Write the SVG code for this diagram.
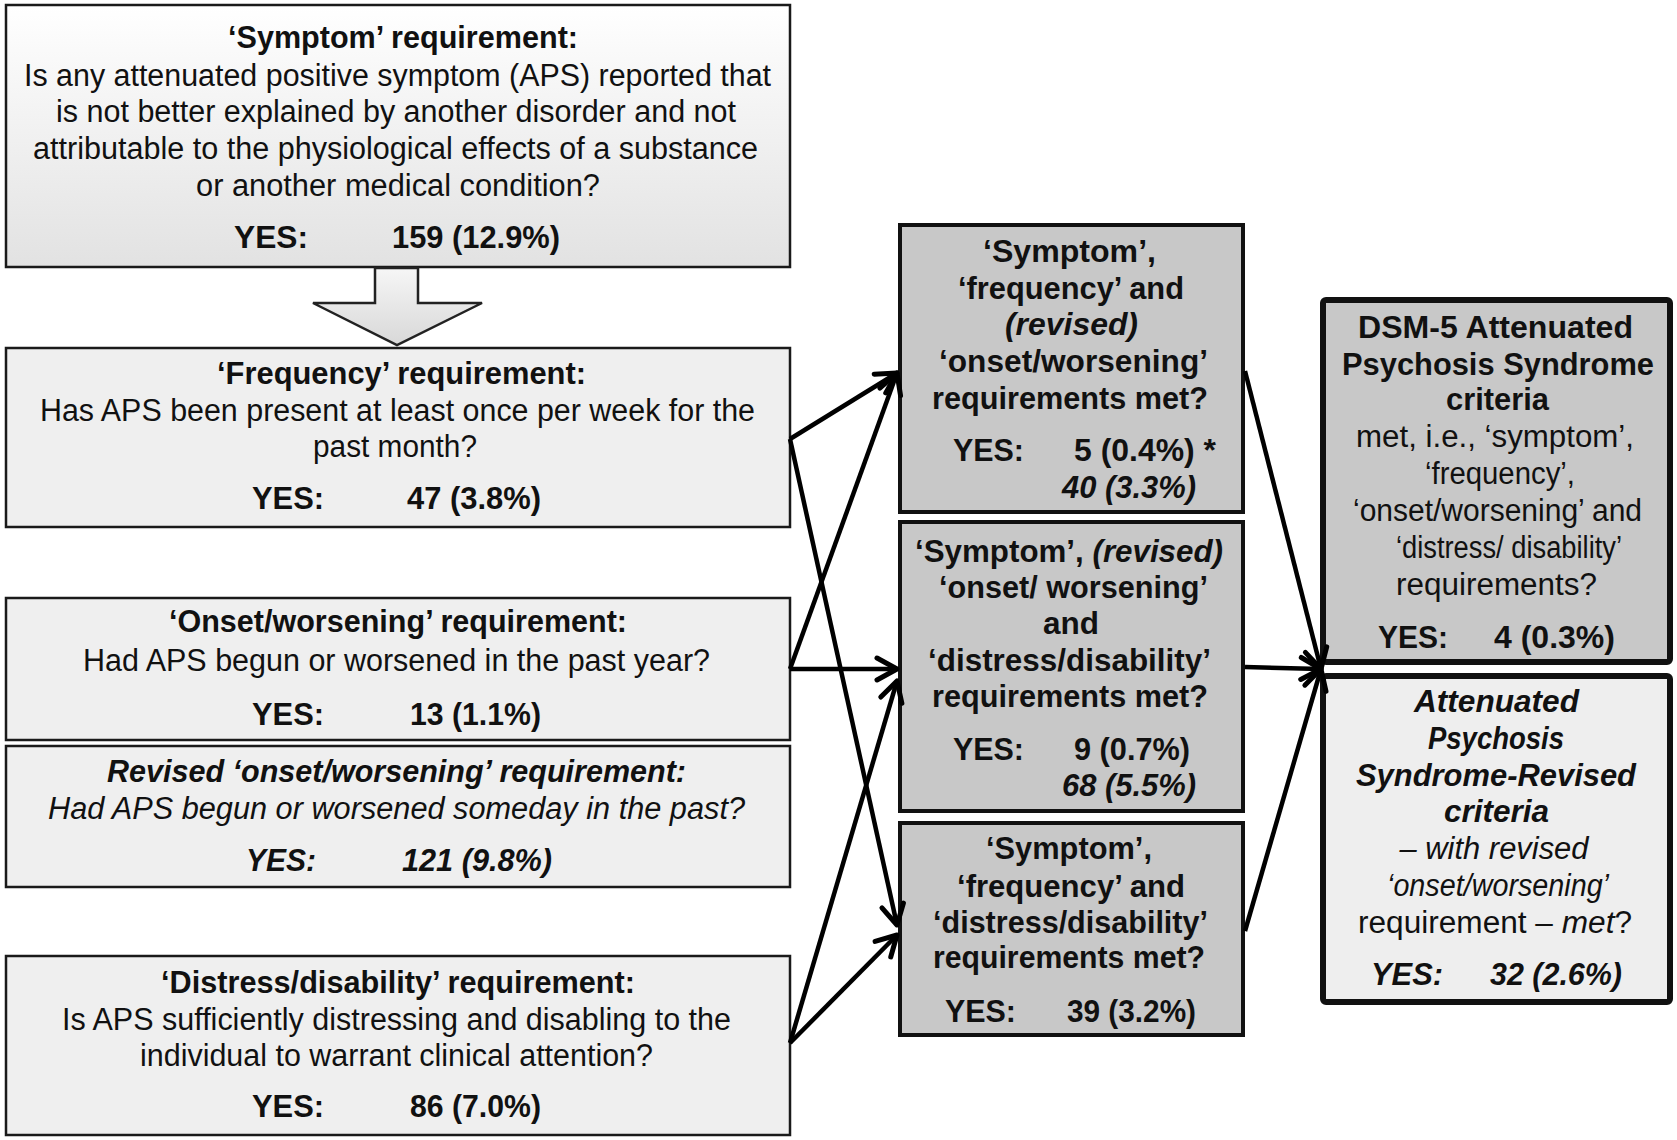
<svg xmlns="http://www.w3.org/2000/svg" width="1677" height="1140" viewBox="0 0 1677 1140">
<defs>
<linearGradient id="g1" x1="0" y1="0" x2="0" y2="1">
<stop offset="0" stop-color="#ffffff"/>
<stop offset="1" stop-color="#e2e2e2"/>
</linearGradient>
<linearGradient id="g2" x1="0" y1="0" x2="0" y2="1">
<stop offset="0" stop-color="#f6f6f6"/>
<stop offset="1" stop-color="#d8d8d8"/>
</linearGradient>
<marker id="ah" markerUnits="userSpaceOnUse" markerWidth="40" markerHeight="40" viewBox="-30 -20 40 40" refX="0" refY="0" orient="auto" overflow="visible">
<path d="M-20,-11 L0,0 L-20,11" fill="none" stroke="#000" stroke-width="5" stroke-linecap="round" stroke-linejoin="round"/>
</marker>
<style>
text{font-family:"Liberation Sans",Arial,sans-serif;font-size:31px;fill:#111}
.c{text-anchor:middle}
.b{font-weight:bold}
.i{font-style:italic}
.lb{fill:#efefef;stroke:#1a1a1a;stroke-width:2.5}
.mb{fill:#c8c8c8;stroke:#111;stroke-width:4}
.rb{stroke:#111;stroke-width:6}
.cn{stroke:#000;stroke-width:4.5;fill:none;marker-end:url(#ah)}
</style>
</defs>
<rect width="1677" height="1140" fill="#fff"/>

<g id="symptom">
<rect class="lb" x="6" y="5" width="784" height="262" style="fill:url(#g1)"/>
<text class="c b" x="403" y="48" textLength="350" lengthAdjust="spacingAndGlyphs">‘Symptom’ requirement:</text>
<text class="c" x="397.5" y="86" textLength="747" lengthAdjust="spacingAndGlyphs">Is any attenuated positive symptom (APS) reported that</text>
<text class="c" x="396" y="122" textLength="680" lengthAdjust="spacingAndGlyphs">is not better explained by another disorder and not</text>
<text class="c" x="395.5" y="159" textLength="725" lengthAdjust="spacingAndGlyphs">attributable to the physiological effects of a substance</text>
<text class="c" x="398" y="196" textLength="404" lengthAdjust="spacingAndGlyphs">or another medical condition?</text>
<text class="b" x="234" y="248" textLength="74" lengthAdjust="spacingAndGlyphs">YES:</text>
<text class="b" x="392" y="248" textLength="168" lengthAdjust="spacingAndGlyphs">159 (12.9%)</text>
</g>

<g id="blockarrow">
<polygon points="375,268 418,268 418,303 482,303 397,345 313,303 375,303" fill="url(#g2)" stroke="#222" stroke-width="2.5" stroke-linejoin="miter"/>
</g>

<g id="frequency">
<rect class="lb" x="6" y="348" width="784" height="179"/>
<text class="c b" x="401.5" y="384" textLength="369" lengthAdjust="spacingAndGlyphs">‘Frequency’ requirement:</text>
<text class="c" x="397.5" y="421" textLength="715" lengthAdjust="spacingAndGlyphs">Has APS been present at least once per week for the</text>
<text class="c" x="395" y="457" textLength="164" lengthAdjust="spacingAndGlyphs">past month?</text>
<text class="b" x="252" y="509" textLength="72" lengthAdjust="spacingAndGlyphs">YES:</text>
<text class="b" x="407" y="509" textLength="134" lengthAdjust="spacingAndGlyphs">47 (3.8%)</text>
</g>

<g id="onset">
<rect class="lb" x="6" y="598" width="784" height="142"/>
<text class="c b" x="398" y="632" textLength="458" lengthAdjust="spacingAndGlyphs">‘Onset/worsening’ requirement:</text>
<text class="c" x="396.5" y="671" textLength="627" lengthAdjust="spacingAndGlyphs">Had APS begun or worsened in the past year?</text>
<text class="b" x="252" y="725" textLength="72" lengthAdjust="spacingAndGlyphs">YES:</text>
<text class="b" x="410" y="725" textLength="131" lengthAdjust="spacingAndGlyphs">13 (1.1%)</text>
</g>

<g id="revised-onset">
<rect class="lb" x="6" y="746" width="784" height="141"/>
<text class="c b i" x="396.5" y="782" textLength="579" lengthAdjust="spacingAndGlyphs">Revised ‘onset/worsening’ requirement:</text>
<text class="c i" x="396.5" y="819" textLength="697" lengthAdjust="spacingAndGlyphs">Had APS begun or worsened someday in the past?</text>
<text class="b i" x="246" y="871" textLength="70" lengthAdjust="spacingAndGlyphs">YES:</text>
<text class="b i" x="402" y="871" textLength="150" lengthAdjust="spacingAndGlyphs">121 (9.8%)</text>
</g>

<g id="distress">
<rect class="lb" x="6" y="956" width="784" height="179"/>
<text class="c b" x="398" y="993" textLength="474" lengthAdjust="spacingAndGlyphs">‘Distress/disability’ requirement:</text>
<text class="c" x="396.5" y="1030" textLength="669" lengthAdjust="spacingAndGlyphs">Is APS sufficiently distressing and disabling to the</text>
<text class="c" x="396.5" y="1066" textLength="513" lengthAdjust="spacingAndGlyphs">individual to warrant  clinical attention?</text>
<text class="b" x="252" y="1117" textLength="72" lengthAdjust="spacingAndGlyphs">YES:</text>
<text class="b" x="410" y="1117" textLength="131" lengthAdjust="spacingAndGlyphs">86 (7.0%)</text>
</g>

<g id="m1">
<rect class="mb" x="900" y="225" width="343" height="287"/>
<text class="c b" x="1069.5" y="262" textLength="173" lengthAdjust="spacingAndGlyphs">‘Symptom’,</text>
<text class="c b" x="1071" y="299" textLength="226" lengthAdjust="spacingAndGlyphs">‘frequency’ and</text>
<text class="c b i" x="1071.5" y="335" textLength="133" lengthAdjust="spacingAndGlyphs">(revised)</text>
<text class="c b" x="1073.5" y="372" textLength="269" lengthAdjust="spacingAndGlyphs">‘onset/worsening’</text>
<text class="c b" x="1070" y="409" textLength="276" lengthAdjust="spacingAndGlyphs">requirements met?</text>
<text class="b" x="953" y="461" textLength="71" lengthAdjust="spacingAndGlyphs">YES:</text>
<text class="b" x="1074" y="461" textLength="142" lengthAdjust="spacingAndGlyphs">5 (0.4%) *</text>
<text class="b i" x="1062" y="498" textLength="134" lengthAdjust="spacingAndGlyphs">40 (3.3%)</text>
</g>

<g id="m2">
<rect class="mb" x="900" y="522" width="343" height="289"/>
<text class="c b" x="1069" y="562" textLength="308" lengthAdjust="spacingAndGlyphs">‘Symptom’, <tspan class="i">(revised)</tspan></text>
<text class="c b" x="1073.5" y="598" textLength="269" lengthAdjust="spacingAndGlyphs">‘onset/ worsening’</text>
<text class="c b" x="1071" y="634" textLength="56" lengthAdjust="spacingAndGlyphs">and</text>
<text class="c b" x="1069.5" y="671" textLength="283" lengthAdjust="spacingAndGlyphs">‘distress/disability’</text>
<text class="c b" x="1070" y="707" textLength="276" lengthAdjust="spacingAndGlyphs">requirements met?</text>
<text class="b" x="953" y="760" textLength="71" lengthAdjust="spacingAndGlyphs">YES:</text>
<text class="b" x="1074" y="760" textLength="116" lengthAdjust="spacingAndGlyphs">9 (0.7%)</text>
<text class="b i" x="1062" y="796" textLength="134" lengthAdjust="spacingAndGlyphs">68 (5.5%)</text>
</g>

<g id="m3">
<rect class="mb" x="900" y="823" width="343" height="212"/>
<text class="c b" x="1069" y="859" textLength="166" lengthAdjust="spacingAndGlyphs">‘Symptom’,</text>
<text class="c b" x="1071" y="897" textLength="228" lengthAdjust="spacingAndGlyphs">‘frequency’ and</text>
<text class="c b" x="1070.5" y="933" textLength="275" lengthAdjust="spacingAndGlyphs">‘distress/disability’</text>
<text class="c b" x="1069" y="968" textLength="272" lengthAdjust="spacingAndGlyphs">requirements met?</text>
<text class="b" x="945" y="1022" textLength="71" lengthAdjust="spacingAndGlyphs">YES:</text>
<text class="b" x="1067" y="1022" textLength="129" lengthAdjust="spacingAndGlyphs">39 (3.2%)</text>
</g>

<g id="dsm5">
<rect class="rb" x="1323" y="300" width="347" height="362" rx="3" fill="#c8c8c8"/>
<text class="c b" x="1495.5" y="338" textLength="275" lengthAdjust="spacingAndGlyphs">DSM-5 Attenuated</text>
<text class="c b" x="1498" y="375" textLength="312" lengthAdjust="spacingAndGlyphs">Psychosis Syndrome</text>
<text class="c b" x="1497.5" y="410" textLength="103" lengthAdjust="spacingAndGlyphs">criteria</text>
<text class="c" x="1495" y="447" textLength="278" lengthAdjust="spacingAndGlyphs">met, i.e., ‘symptom’,</text>
<text class="c" x="1500" y="484" textLength="150" lengthAdjust="spacingAndGlyphs">‘frequency’,</text>
<text class="c" x="1497.5" y="521" textLength="289" lengthAdjust="spacingAndGlyphs">‘onset/worsening’ and</text>
<text class="c" x="1509" y="558" textLength="226" lengthAdjust="spacingAndGlyphs">‘distress/ disability’</text>
<text class="c" x="1496.5" y="595" textLength="201" lengthAdjust="spacingAndGlyphs">requirements?</text>
<text class="b" x="1378" y="648" textLength="70" lengthAdjust="spacingAndGlyphs">YES:</text>
<text class="b" x="1494" y="648" textLength="121" lengthAdjust="spacingAndGlyphs">4 (0.3%)</text>
</g>

<g id="apsr">
<rect class="rb" x="1323" y="676" width="347" height="326" rx="3" fill="#eeeeee"/>
<text class="c b i" x="1496.5" y="712" textLength="165" lengthAdjust="spacingAndGlyphs">Attenuated</text>
<text class="c b i" x="1496" y="749" textLength="136" lengthAdjust="spacingAndGlyphs">Psychosis</text>
<text class="c b i" x="1496" y="786" textLength="280" lengthAdjust="spacingAndGlyphs">Syndrome-Revised</text>
<text class="c b i" x="1496.5" y="822" textLength="105" lengthAdjust="spacingAndGlyphs">criteria</text>
<text class="c i" x="1494" y="859" textLength="189" lengthAdjust="spacingAndGlyphs">– with revised</text>
<text class="c i" x="1498" y="896" textLength="222" lengthAdjust="spacingAndGlyphs">‘onset/worsening’</text>
<text class="c" x="1495" y="933" textLength="274" lengthAdjust="spacingAndGlyphs">requirement – <tspan class="i">met</tspan>?</text>
<text class="b i" x="1371" y="985" textLength="72" lengthAdjust="spacingAndGlyphs">YES:</text>
<text class="b i" x="1490" y="985" textLength="132" lengthAdjust="spacingAndGlyphs">32 (2.6%)</text>
</g>

<g id="connectors">
<line class="cn" x1="790" y1="439" x2="897" y2="373"/>
<line class="cn" x1="790" y1="439" x2="897" y2="925"/>
<line class="cn" x1="790" y1="669" x2="897" y2="373"/>
<line class="cn" x1="790" y1="669" x2="897" y2="669"/>
<line class="cn" x1="790" y1="1043" x2="897" y2="681"/>
<line class="cn" x1="790" y1="1043" x2="897" y2="935"/>
<line class="cn" x1="1245" y1="371" x2="1321" y2="669"/>
<line class="cn" x1="1245" y1="667" x2="1321" y2="669"/>
<line class="cn" x1="1245" y1="931" x2="1321" y2="669"/>
</g>
</svg>
